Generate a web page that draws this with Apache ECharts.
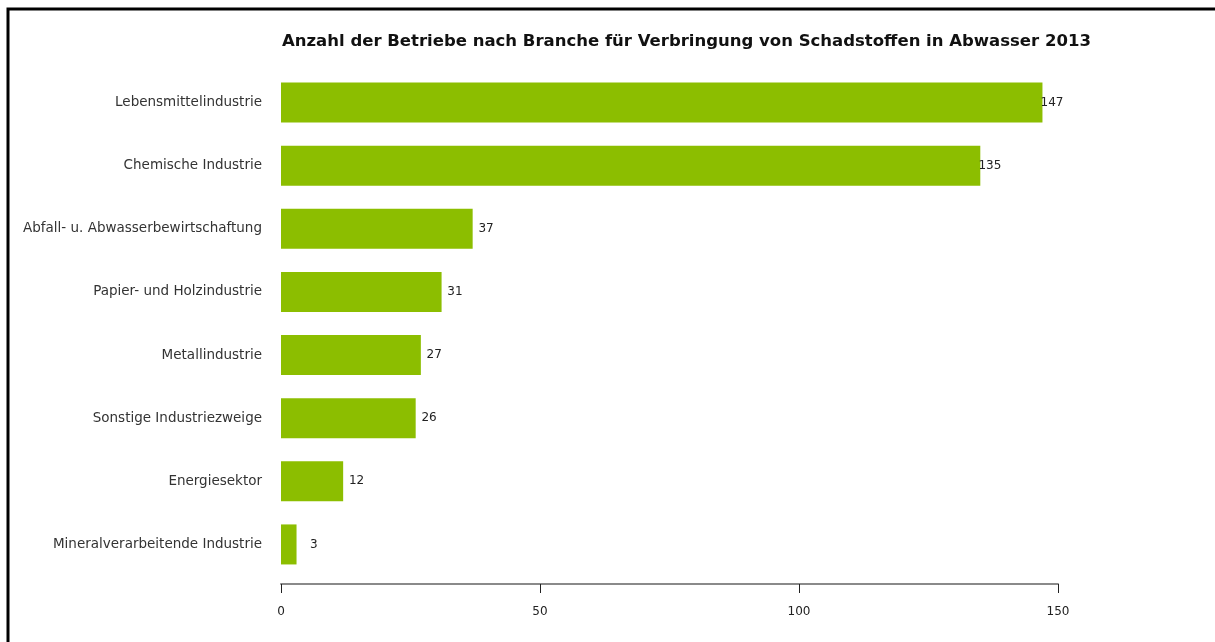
<!DOCTYPE html>
<html>
<head>
<meta charset="utf-8">
<script src="https://cdn.jsdelivr.net/npm/echarts@6/dist/echarts.min.js"></script>
<style>
  html, body { margin: 0; padding: 0; background: #fff; }
  #chart { width: 1215px; height: 642px; }
</style>
</head>
<body>
<div id="chart"></div>
<script>
// Branches, listed top to bottom
const branches = [
  'Lebensmittelindustrie',
  'Chemische Industrie',
  'Abfall- u. Abwasserbewirtschaftung',
  'Papier- und Holzindustrie',
  'Metallindustrie',
  'Sonstige Industriezweige',
  'Energiesektor',
  'Mineralverarbeitende Industrie'
];
// Number of facilities per branch
const facilities = [147, 135, 37, 31, 27, 26, 12, 3];
// Value axis ticks
const axisTicks = [0, 50, 100, 150];

const FONT = '"DejaVu Sans", "Noto Sans", sans-serif';

const chart = echarts.init(document.getElementById('chart'), null, { renderer: 'canvas' });

chart.setOption({
  backgroundColor: '#ffffff',
  animation: false,
  title: {
    text: 'Anzahl der Betriebe nach Branche für Verbringung von Schadstoffen in Abwasser 2013',
    left: 277,
    top: 28,
    textStyle: { fontFamily: FONT, fontSize: 16.5, fontWeight: 'bold', color: '#111' }
  },
  graphic: [{
    type: 'rect',
    shape: { x: 8, y: 9, width: 1400, height: 1000 },
    style: { fill: 'none', stroke: '#000', lineWidth: 3 },
    silent: true
  }],
  grid: { left: 281, right: 157, top: 71, bottom: 66, containLabel: false },
  xAxis: {
    type: 'value',
    min: axisTicks[0],
    max: axisTicks[axisTicks.length - 1],
    interval: axisTicks[1] - axisTicks[0],
    offset: 8,
    axisLine: { show: true, lineStyle: { color: '#8a8a8a', width: 2 } },
    axisTick: { show: true, length: 9, lineStyle: { color: '#222', width: 1 } },
    axisLabel: { margin: 22, fontFamily: FONT, fontSize: 12, color: '#222' },
    splitLine: { show: false }
  },
  yAxis: {
    type: 'category',
    inverse: true,
    data: branches,
    axisLine: { show: false },
    axisTick: { show: false },
    axisLabel: { margin: 19, fontFamily: FONT, fontSize: 13.5, color: '#333' }
  },
  series: [{
    type: 'bar',
    data: facilities,
    barCategoryGap: '36.6%',
    itemStyle: { color: '#8cbe00' },
    label: {
      show: true,
      position: 'right',
      distance: 21,
      align: 'right',
      fontFamily: FONT,
      fontSize: 12,
      color: '#222'
    }
  }]
});
</script>
</body>
</html>
